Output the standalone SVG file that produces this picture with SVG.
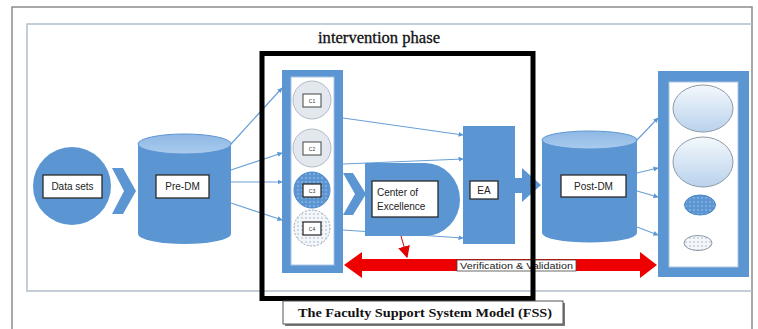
<svg xmlns="http://www.w3.org/2000/svg" width="758" height="329" viewBox="0 0 758 329">
<defs>
<style>
.blue{fill:#5b96d3}
.lbl{fill:#fff;stroke:#2a2a2a;stroke-width:1.3}
.t{font-family:"Liberation Sans",Arial,sans-serif;font-size:10px;fill:#222}
.conn{stroke:#6a9fd8;stroke-width:1.2;fill:none;marker-end:url(#ah)}
.ctext{font-family:"Liberation Sans",Arial,sans-serif;font-size:5px;fill:#333}
</style>
<marker id="ah" viewBox="0 0 10 10" refX="9" refY="5" markerWidth="5" markerHeight="5" orient="auto" markerUnits="userSpaceOnUse">
<path d="M0,0 L10,5 L0,10 z" fill="#5b96d3"/>
</marker>
<marker id="rah" viewBox="0 0 10 10" refX="9" refY="5" markerWidth="12" markerHeight="12" orient="auto" markerUnits="userSpaceOnUse">
<path d="M0,0 L10,5 L0,10 z" fill="#e00000"/>
</marker>
<linearGradient id="topg" x1="0" y1="0" x2="0" y2="1">
<stop offset="0" stop-color="#8fb8e4"/><stop offset="1" stop-color="#a9cbee"/>
</linearGradient>
<linearGradient id="ellg" x1="0" y1="0" x2="0" y2="1">
<stop offset="0" stop-color="#f4f8fc"/><stop offset="1" stop-color="#b9d2ec"/>
</linearGradient>
<pattern id="dots" width="4" height="4" patternUnits="userSpaceOnUse">
<rect width="4" height="4" fill="#5b96d3"/><circle cx="2" cy="2" r="0.7" fill="#b8d2ee"/>
</pattern>
<pattern id="ldots" width="4" height="4" patternUnits="userSpaceOnUse">
<rect width="4" height="4" fill="#f4f6f9"/><circle cx="2" cy="2" r="0.7" fill="#8aa6c4"/>
</pattern>
</defs>
<rect width="758" height="329" fill="#fff"/>
<!-- page frames -->
<path d="M12,340 V7 H752 V340" fill="none" stroke="#8c8c8c" stroke-width="1.5"/>
<path d="M752,24 H27 V291 H752" fill="none" stroke="#b3bfca" stroke-width="1.5"/>

<!-- connectors -->
<g id="connectors">
<line class="conn" x1="231" y1="144" x2="282" y2="88"/>
<line class="conn" x1="231" y1="170" x2="282" y2="153"/>
<line class="conn" x1="231" y1="182" x2="282" y2="182"/>
<line class="conn" x1="231" y1="203" x2="282" y2="220"/>
<line class="conn" x1="343" y1="118" x2="463" y2="135"/>
<line class="conn" x1="343" y1="164" x2="463" y2="159"/>
<line class="conn" x1="343" y1="230" x2="463" y2="238"/>
<line class="conn" x1="637" y1="140" x2="658" y2="118"/>
<line class="conn" x1="637" y1="173" x2="658" y2="168"/>
<line class="conn" x1="637" y1="191" x2="658" y2="197"/>
<line class="conn" x1="637" y1="227" x2="658" y2="235"/>
<!-- chevrons -->
<polygon class="blue" points="112,168 123,168 136,191 123,214 112,214 124,191"/>
<polygon class="blue" points="343,173 353,173 366,194 353,215 343,215 355,194"/>
<!-- EA to Post-DM block arrow -->
<polygon class="blue" points="514,178 522,178 522,168 541,185 522,202 522,193 514,193"/>
<!-- V&V double arrow -->
<polygon fill="#ee0000" points="344,265 362,252 362,259 640,259 640,252 657,265 640,278 640,271 362,271 362,278"/>
<line x1="401" y1="236" x2="407" y2="257" stroke="#c00000" stroke-width="1" marker-end="url(#rah)"/>
</g>

<g id="data-sets">
<circle class="blue" cx="72" cy="186" r="39"/>
<rect class="lbl" x="43" y="175" width="59" height="23"/>
<text class="t" x="72.5" y="190" text-anchor="middle">Data sets</text>
</g>

<g id="pre-dm">
<path class="blue" d="M138,144 V234 A46.5,10 0 0 0 231,234 V144 Z"/>
<ellipse cx="184.5" cy="144" rx="46.5" ry="10" fill="url(#topg)" stroke="#5b96d3" stroke-width="1"/>
<rect class="lbl" x="156" y="175" width="53" height="23"/>
<text class="t" x="182.5" y="190" text-anchor="middle">Pre-DM</text>
</g>

<g id="c-column">
<rect class="blue" x="282" y="70" width="61" height="203"/>
<rect x="291" y="77" width="43" height="188" fill="#fff" stroke="#a9c4e2" stroke-width="1"/>
<circle cx="312" cy="100" r="19" fill="#e3e8ef" stroke="#b0bac6" stroke-width="1"/>
<circle cx="312" cy="148" r="19" fill="#e3e8ef" stroke="#b0bac6" stroke-width="1"/>
<circle cx="312" cy="190" r="18" fill="url(#dots)" stroke="#4a86c8" stroke-width="1"/>
<circle cx="312" cy="228" r="18" fill="url(#ldots)" stroke="#9aa8b8" stroke-width="1" stroke-dasharray="2,1.5"/>
<rect x="303" y="94" width="18" height="13" fill="#fff" stroke="#444" stroke-width="1"/>
<text class="ctext" x="312" y="102.5" text-anchor="middle">C1</text>
<rect x="303" y="142" width="18" height="13" fill="#fff" stroke="#444" stroke-width="1"/>
<text class="ctext" x="312" y="150.5" text-anchor="middle">C2</text>
<rect x="303" y="184" width="18" height="13" fill="#fff" stroke="#222" stroke-width="1.2"/>
<text class="ctext" x="312" y="192.5" text-anchor="middle">C3</text>
<rect x="303" y="222" width="18" height="13" fill="#fff" stroke="#222" stroke-width="1.2"/>
<text class="ctext" x="312" y="230.5" text-anchor="middle">C4</text>
</g>

<g id="center-of-excellence">
<path class="blue" d="M365,163 H425 A35,36.5 0 0 1 425,236 H365 Z"/>
<rect class="lbl" x="372" y="181" width="66" height="36"/>
<text class="t" x="377" y="196">Center of</text>
<text class="t" x="377" y="210">Excellence</text>
</g>

<g id="ea">
<rect class="blue" x="463" y="126" width="52" height="118"/>
<rect class="lbl" x="470" y="181" width="28" height="18"/>
<text class="t" x="484" y="194" text-anchor="middle">EA</text>
</g>

<g id="post-dm">
<path class="blue" d="M542,140 V233 A47.5,9.5 0 0 0 637,233 V140 Z"/>
<ellipse cx="589.5" cy="140" rx="47.5" ry="9" fill="url(#topg)" stroke="#5b96d3" stroke-width="1"/>
<rect class="lbl" x="561" y="175" width="65" height="22"/>
<text class="t" x="593.5" y="189.5" text-anchor="middle">Post-DM</text>
</g>

<g id="outputs">
<rect class="blue" x="658" y="71" width="91" height="206"/>
<rect x="669" y="82" width="69" height="185" fill="#fff" stroke="#a9c4e2" stroke-width="1"/>
<ellipse cx="703" cy="108.5" rx="30" ry="23.5" fill="url(#ellg)" stroke="#8d99a6" stroke-width="1"/>
<ellipse cx="703" cy="162" rx="30" ry="25" fill="url(#ellg)" stroke="#8d99a6" stroke-width="1"/>
<ellipse cx="700" cy="205" rx="15.5" ry="10" fill="url(#dots)" stroke="#4a86c8" stroke-width="1"/>
<ellipse cx="698" cy="243" rx="14" ry="7.5" fill="url(#ldots)" stroke="#8d99a6" stroke-width="1"/>
</g>

<g id="vv-label">
<rect x="457" y="260" width="119" height="11" fill="#fff" stroke="#444" stroke-width="0.8"/>
<text x="516.5" y="268.5" text-anchor="middle" font-family="Liberation Sans, Arial, sans-serif" font-size="8.5" fill="#222" textLength="113" lengthAdjust="spacingAndGlyphs">Verification &amp; Validation</text>
</g>

<g id="intervention-phase">
<rect x="262" y="53.5" width="271" height="245" fill="none" stroke="#000" stroke-width="5"/>
<text x="318" y="43" font-family="Liberation Serif, 'Times New Roman', serif" font-size="16" fill="#111" stroke="#111" stroke-width="0.3" textLength="122" lengthAdjust="spacingAndGlyphs">intervention phase</text>
</g>

<g id="caption">
<rect x="285" y="303" width="280" height="23" fill="#7a7a7a"/>
<rect x="283" y="301" width="280" height="23" fill="#fff" stroke="#555" stroke-width="1"/>
<text x="298" y="317" font-family="Liberation Serif, 'Times New Roman', serif" font-size="12.5" font-weight="bold" fill="#111" textLength="254" lengthAdjust="spacingAndGlyphs">The Faculty Support System Model (FSS)</text>
</g>
</svg>
